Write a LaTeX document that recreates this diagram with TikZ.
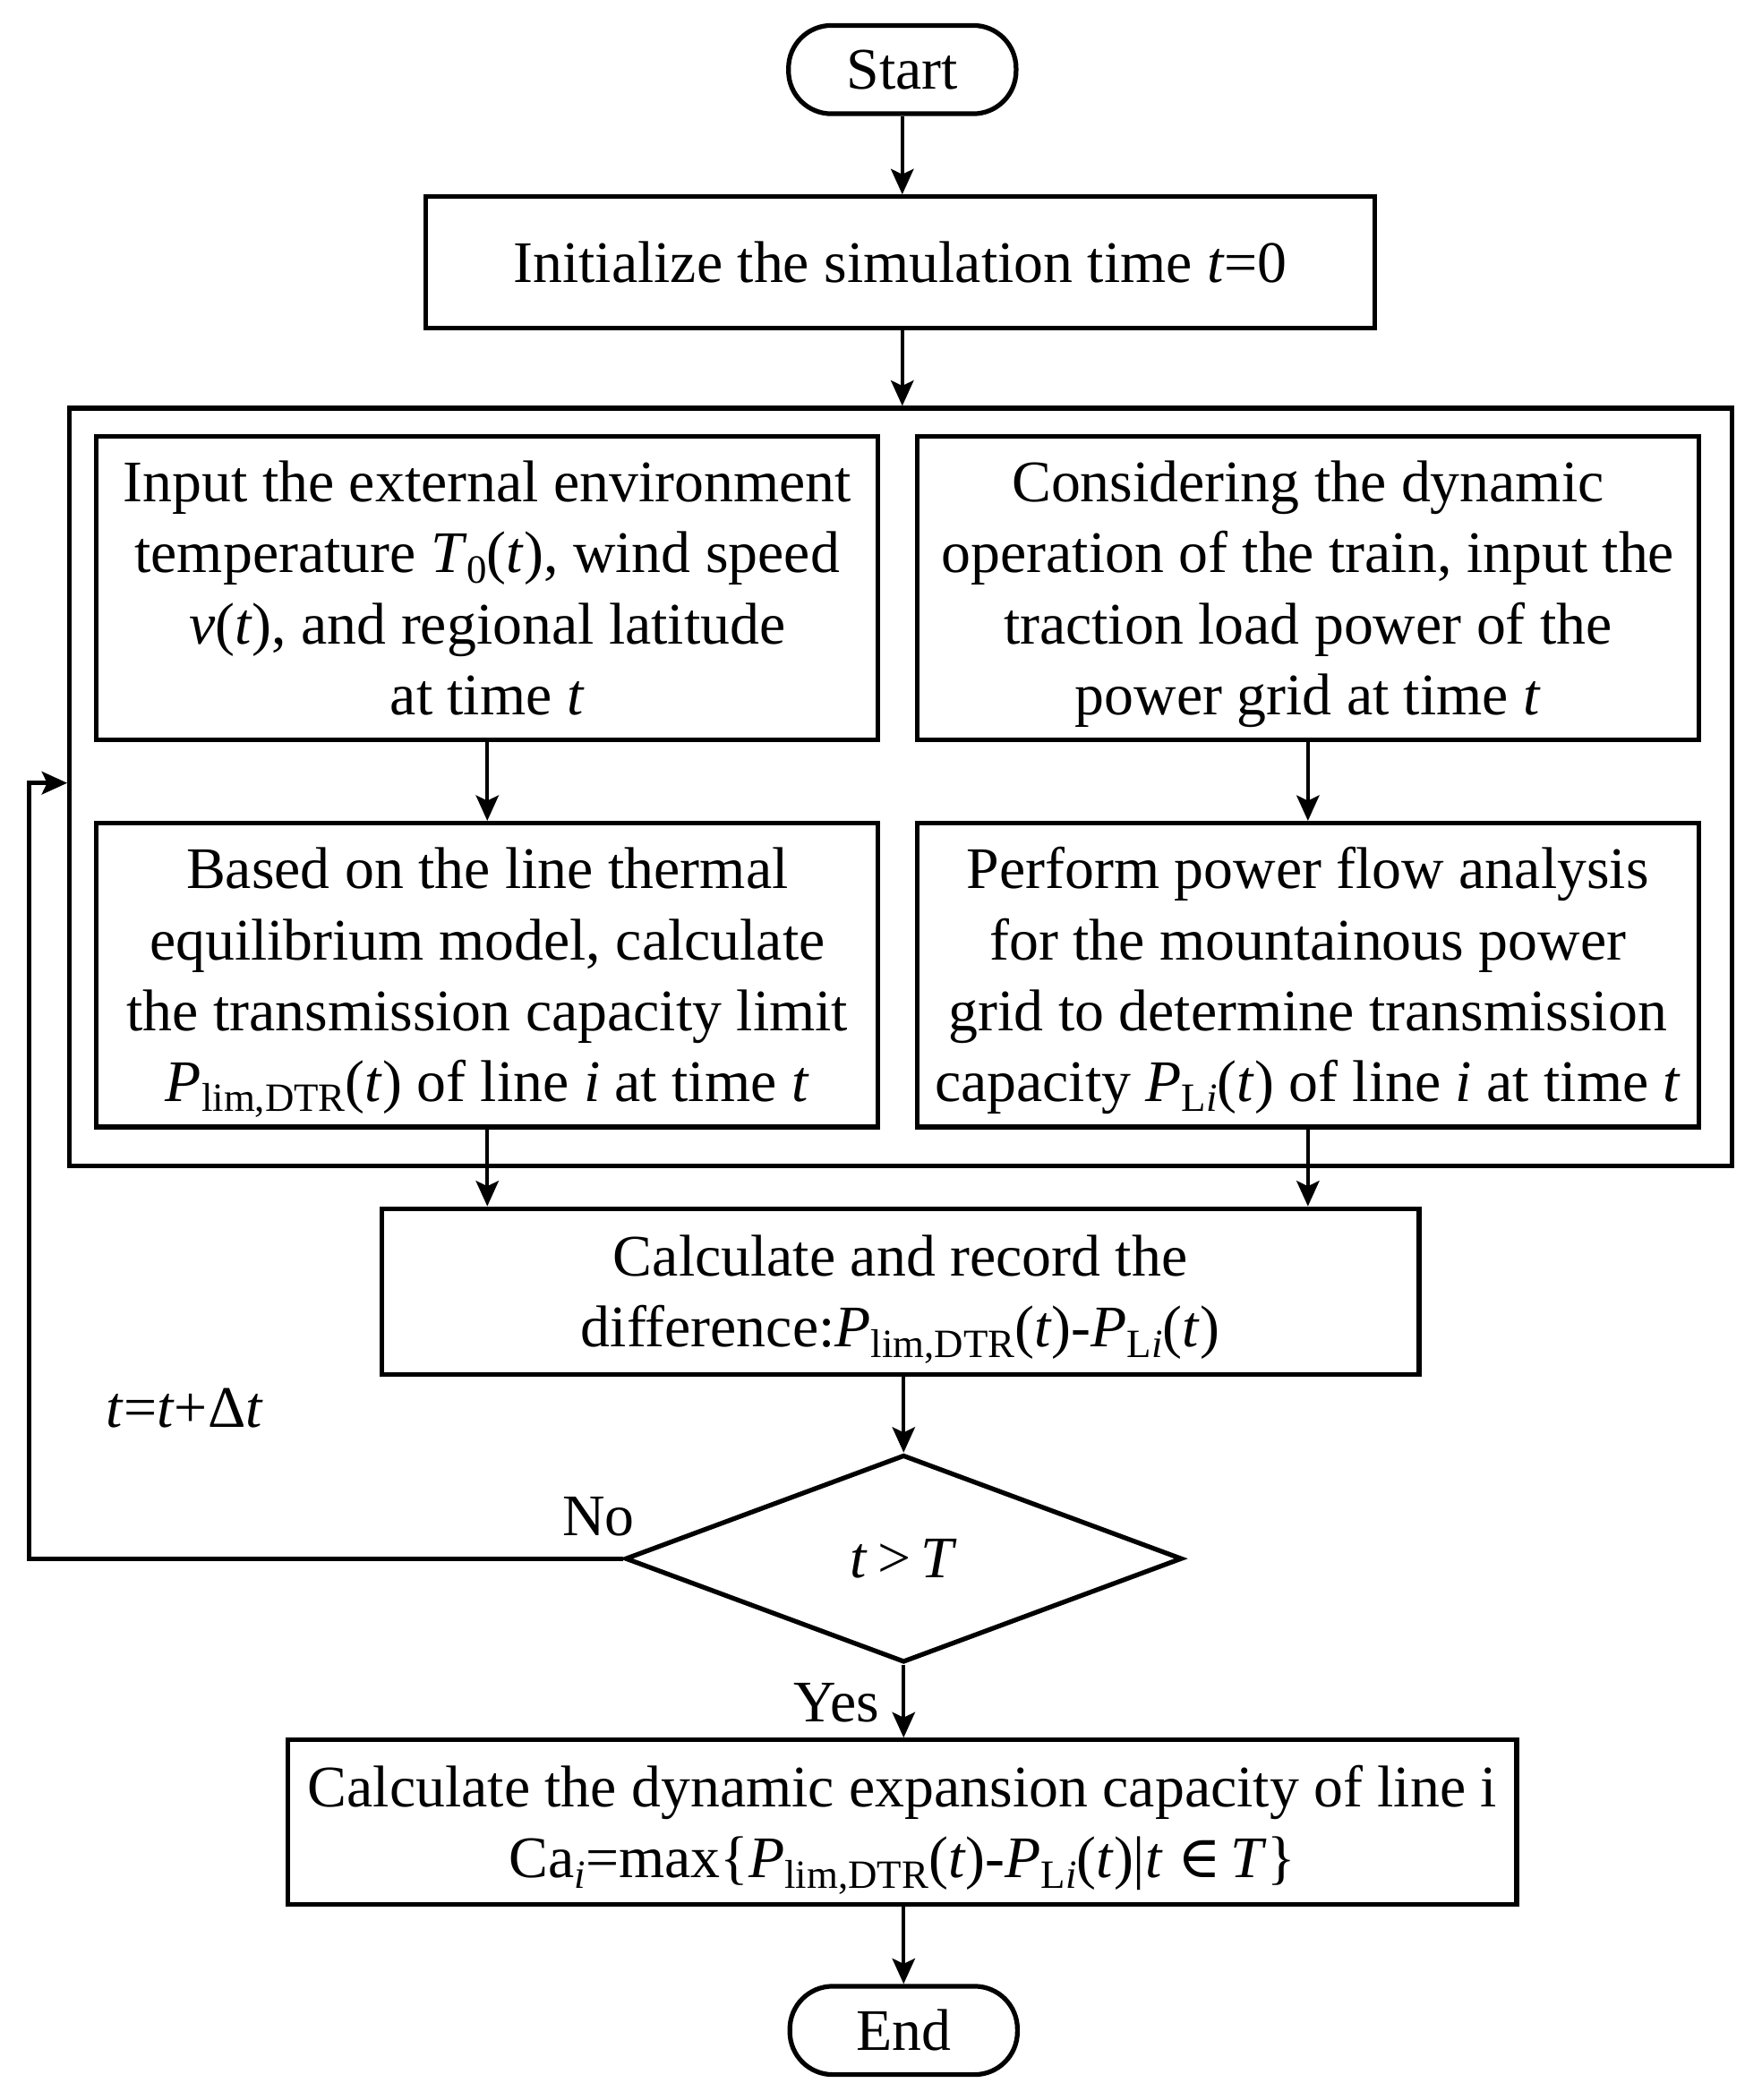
\documentclass[tikz,border=0pt]{standalone}
\usepackage{fontspec}
\setmainfont{Liberation Serif}
\newfontfamily\dvs{DejaVu Serif}
\usetikzlibrary{arrows.meta,shapes.geometric}
\newcommand\sbs[1]{\raisebox{-0.17em}{\fontsize{30}{30}\selectfont #1}}
\newcommand\ti[1]{\textit{#1}}
\newcommand\bstrut{\rule[-16pt]{0pt}{62pt}}
\tikzset{
  every node/.style={font=\fontsize{44}{53}\selectfont},
  boxnode/.style={draw, line width=3.5pt, inner sep=0pt, align=center, anchor=center,
    execute at end node=\bstrut},
  termnode/.style={draw, line width=3.5pt, inner sep=0pt, rounded corners=32pt, minimum width=170pt, minimum height=66pt},
  arr/.style={line width=2.6pt, -{Stealth[length=19pt,width=17pt,inset=4pt]}},
  fbline/.style={line width=3.3pt, -{Stealth[length=19pt,width=17pt,inset=4pt]}},
  lbl/.style={inner sep=0pt}
}
\begin{document}
\begin{tikzpicture}[x=1pt,y=-1pt]
\useasboundingbox (0,0) rectangle (1316,1569);
% outer group box
\node[draw, line width=3.5pt, inner sep=0pt, minimum width=1242pt, minimum height=566pt] (outer) at (673,588) {};
\node[termnode] (start) at (674,52) {Start};
\node[boxnode, minimum width=709pt, minimum height=98pt] (init) at (672.5,196) {\bstrut Initialize the simulation time \ti{t}=0};
\node[boxnode, minimum width=584pt, minimum height=227pt] (lt) at (364,439.5) {\bstrut Input the external environment\\temperature \ti{T}\sbs{0}(\ti{t}), wind speed\\\ti{v}(\ti{t}), and regional latitude\\at time \ti{t}};
\node[boxnode, minimum width=584pt, minimum height=227pt] (rt) at (977,439.5) {\bstrut Considering the dynamic\\operation of the train, input the\\traction load power of the\\power grid at time \ti{t}};
\node[boxnode, minimum width=584pt, minimum height=227pt] (lb) at (364,728.5) {\bstrut Based on the line thermal\\equilibrium model, calculate\\the transmission capacity limit\\\ti{P}\sbs{lim,DTR}(\ti{t}) of line \ti{i} at time \ti{t}};
\node[boxnode, minimum width=584pt, minimum height=227pt] (rb) at (977,728.5) {\bstrut Perform power flow analysis\\for the mountainous power\\grid to determine transmission\\capacity \ti{P}\sbs{L\ti{i}}(\ti{t}) of line \ti{i} at time \ti{t}};
\node[boxnode, minimum width=775pt, minimum height=124pt] (calc) at (672.5,965) {\bstrut Calculate and record the\\difference:\ti{P}\sbs{lim,DTR}(\ti{t})-\ti{P}\sbs{L\ti{i}}(\ti{t})};
\node[draw, line width=3.5pt, shape=diamond, aspect=2.68, inner sep=0pt, minimum width=416pt, minimum height=155pt] (dia) at (675,1164.5) {\ti{t}\,>\,\ti{T}};
\node[boxnode, minimum width=918pt, minimum height=123pt] (final) at (674,1361.5) {\bstrut Calculate the dynamic expansion capacity of line i\\Ca\sbs{\ti{i}}=max\{\ti{P}\sbs{lim,DTR}(\ti{t})-\ti{P}\sbs{L\ti{i}}(\ti{t})|\ti{t} {\dvs ∈}\,\ti{T}\}};
\node[termnode] (end) at (675,1517) {End};
% labels
\node[lbl] (no) at (447,1133) {No};
\node[lbl] (yes) at (625,1272) {Yes};
\node[lbl] (inc) at (138,1052) {\ti{t}=\ti{t}+Δ\ti{t}};
% connectors
\draw[arr] (start.south) -- (start.south |- init.north);
\draw[arr] (start.south |- init.south) -- (start.south |- outer.north);
\draw[arr] (lt.south) -- (lb.north);
\draw[arr] (rt.south) -- (rb.north);
\draw[arr] (lb.south) -- (lb.south |- calc.north);
\draw[arr] (rb.south) -- (rb.south |- calc.north);
\draw[arr] (dia.north |- calc.south) -- (dia.north);
\draw[arr] (dia.south) -- (dia.south |- final.north);
\draw[arr] (end.north |- final.south) -- (end.north);
\coordinate (fb) at (22,585);
\draw[fbline] (dia.west) -| (fb) -- (outer.west |- fb);
\end{tikzpicture}
\end{document}
